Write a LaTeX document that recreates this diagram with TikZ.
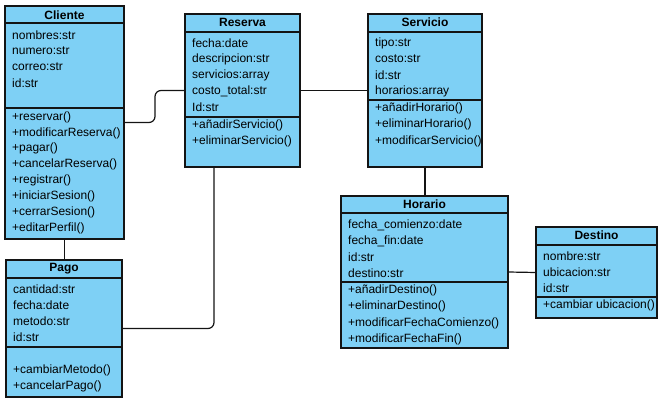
\documentclass[tikz,border=0pt]{standalone}
\usepackage{fontspec}
\setmainfont{Liberation Sans}
\begin{document}
\definecolor{classfill}{RGB}{126,208,245}
\definecolor{edge}{RGB}{20,20,20}
\begin{tikzpicture}[x=1pt,y=-1pt,
  classbox/.style={draw=edge,fill=classfill,line width=1.1pt,anchor=north west,inner sep=0pt,outer sep=0pt},
  title/.style={font=\fontsize{12}{14}\selectfont\bfseries,inner sep=0pt},
  item/.style={font=\fontsize{12}{14}\selectfont,anchor=west,inner sep=0pt},
  sep/.style={draw=edge,line width=1.1pt},
  conn/.style={draw=edge,line width=1.2pt,rounded corners=6pt}]
\useasboundingbox (0,0) rectangle (660,403);

% Cliente
\node[classbox,minimum width=119pt,minimum height=233pt] (cliente) at (5,6) {};
\node[title] (clienteT) at (64.5,15) {Cliente};
\draw[sep] (5,23) -- (124,23);
\draw[sep] (5,108) -- (124,108);
\node[item] (c1) at (12,35) {nombres:str};
\node[item] (c2) at (12,51) {numero:str};
\node[item] (c3) at (12,67) {correo:str};
\node[item] (c4) at (12,83) {id:str};
\node[item] (c5) at (12,117) {+reservar()};
\node[item] (c6) at (12,133) {+modificarReserva()};
\node[item] (c7) at (12,148.5) {+pagar()};
\node[item] (c8) at (12,164.5) {+cancelarReserva()};
\node[item] (c9) at (12,180.5) {+registrar()};
\node[item] (c10) at (12,196.5) {+iniciarSesion()};
\node[item] (c11) at (12,212) {+cerrarSesion()};
\node[item] (c12) at (12,228) {+editarPerfil()};

% Reserva
\node[classbox,minimum width=115pt,minimum height=153pt] (reserva) at (185,14) {};
\node[title] (reservaT) at (242.5,22.5) {Reserva};
\draw[sep] (185,32) -- (300,32);
\draw[sep] (185,117) -- (300,117);
\node[item] (r1) at (192,43) {fecha:date};
\node[item] (r2) at (192,59) {descripcion:str};
\node[item] (r3) at (192,75) {servicios:array};
\node[item] (r4) at (192,91) {costo\_total:str};
\node[item] (r5) at (192,107) {Id:str};
\node[item] (r6) at (192,125) {+añadirServicio()};
\node[item] (r7) at (192,141) {+eliminarServicio()};

% Servicio
\node[classbox,minimum width=114pt,minimum height=153pt] (servicio) at (368,14) {};
\node[title] (servicioT) at (425,22.5) {Servicio};
\draw[sep] (368,32) -- (482,32);
\draw[sep] (368,100) -- (482,100);
\node[item] (s1) at (375,43) {tipo:str};
\node[item] (s2) at (375,59) {costo:str};
\node[item] (s3) at (375,75) {id:str};
\node[item] (s4) at (375,91) {horarios:array};
\node[item] (s5) at (375,108.5) {+añadirHorario()};
\node[item] (s6) at (375,124.5) {+eliminarHorario()};
\node[item] (s7) at (375,141) {+modificarServicio()};

% Horario
\node[classbox,minimum width=167pt,minimum height=152pt] (horario) at (341,196) {};
\node[title] (horarioT) at (424.5,204.5) {Horario};
\draw[sep] (341,213) -- (508,213);
\draw[sep] (341,282) -- (508,282);
\node[item] (h1) at (348,225) {fecha\_comienzo:date};
\node[item] (h2) at (348,241) {fecha\_fin:date};
\node[item] (h3) at (348,257) {id:str};
\node[item] (h4) at (348,273) {destino:str};
\node[item] (h5) at (348,290.5) {+añadirDestino()};
\node[item] (h6) at (348,306.5) {+eliminarDestino()};
\node[item] (h7) at (348,323) {+modificarFechaComienzo()};
\node[item] (h8) at (348,339) {+modificarFechaFin()};

% Destino
\node[classbox,minimum width=121pt,minimum height=91pt] (destino) at (536,227) {};
\node[title] (destinoT) at (596.5,235.5) {Destino};
\draw[sep] (536,245) -- (657,245);
\draw[sep] (536,297) -- (657,297);
\node[item] (d1) at (543,256) {nombre:str};
\node[item] (d2) at (543,272) {ubicacion:str};
\node[item] (d3) at (543,288) {id:str};
\node[item] (d4) at (543,305) {+cambiar ubicacion()};

% Pago
\node[classbox,minimum width=116pt,minimum height=137pt] (pago) at (6,260) {};
\node[title] (pagoT) at (64,268.5) {Pago};
\draw[sep] (6,278) -- (122,278);
\draw[sep] (6,347) -- (122,347);
\node[item] (p1) at (13,289) {cantidad:str};
\node[item] (p2) at (13,305) {fecha:date};
\node[item] (p3) at (13,321) {metodo:str};
\node[item] (p4) at (13,337) {id:str};
\node[item] (p5) at (13,370.5) {+cambiarMetodo()};
\node[item] (p6) at (13,386) {+cancelarPago()};

% Associations
\draw[conn] (cliente.east) -- ++(31,0) |- (reserva.west);
\draw[conn] (reserva.east) -- (servicio.west);
\draw[conn] (servicio.south) -- (servicio.south |- horario.north);
\draw[conn] (horario.east) -- (destino.west);
\draw[conn] (cliente.south) -- (cliente.south |- pago.north);
\draw[conn] ([xshift=-28.5pt]reserva.south) |- (pago.east);
\end{tikzpicture}
\end{document}
